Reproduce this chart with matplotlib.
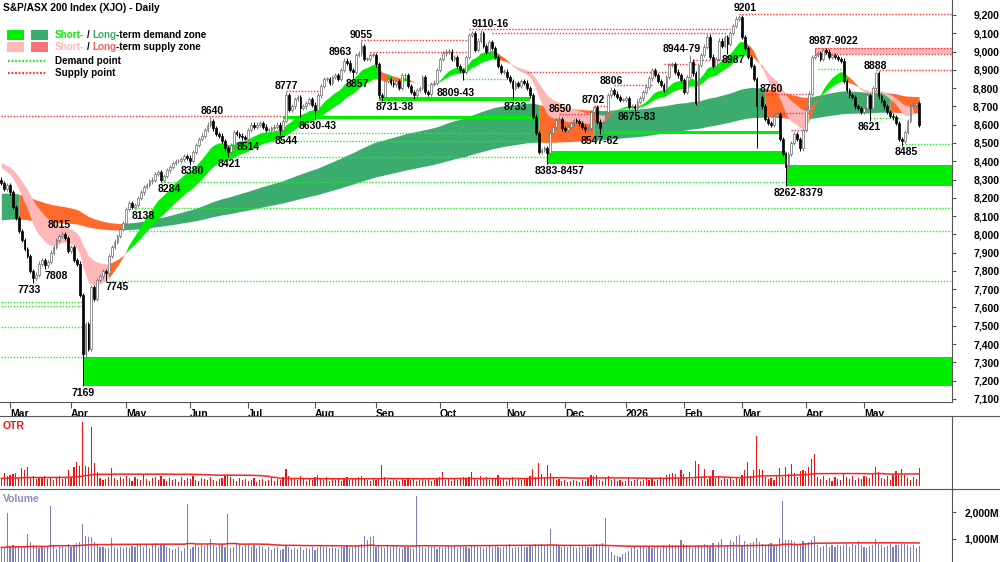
import numpy as np
import pandas as pd
import matplotlib
matplotlib.use('Agg')
import matplotlib.pyplot as plt
from matplotlib.lines import Line2D
from matplotlib.patches import Rectangle

plt.rcParams['font.family'] = ['Liberation Sans', 'DejaVu Sans']

# daily closes, 26 Feb 2025 .. 28 May 2026
closes = [
    8280, 8250, 8270, 8230, 8150, 8090, 8020, 7970, 7920, 7880,
    7800, 7760, 7780, 7840, 7860, 7830, 7850, 7900, 7930, 7970,
    7990, 8000, 7980, 7910, 7930, 7860, 7840, 7667, 7343, 7511,
    7375, 7710, 7646, 7750, 7770, 7800, 7790, 7880, 7930, 7960,
    7990, 8030, 8060, 8140, 8170, 8150, 8160, 8200, 8230, 8260,
    8270, 8290, 8300, 8330, 8340, 8300, 8320, 8350, 8370, 8390,
    8400, 8400, 8410, 8430, 8420, 8400, 8450, 8490, 8520, 8540,
    8570, 8600, 8620, 8580, 8550, 8540, 8510, 8470, 8450, 8490,
    8560, 8550, 8540, 8530, 8520, 8570, 8600, 8590, 8600, 8610,
    8590, 8570, 8570, 8580, 8590, 8600, 8570, 8620, 8760, 8680,
    8700, 8740, 8750, 8690, 8700, 8720, 8740, 8710, 8680, 8760,
    8810, 8850, 8850, 8830, 8860, 8870, 8850, 8900, 8950, 8940,
    8900, 8890, 8980, 8990, 9030, 8960, 8960, 8980, 8980, 8930,
    8760, 8750, 8840, 8850, 8830, 8820, 8840, 8800, 8870, 8870,
    8810, 8780, 8760, 8790, 8800, 8860, 8780, 8770, 8820, 8830,
    8900, 8960, 8990, 9000, 9000, 8960, 8970, 8920, 8900, 8890,
    8970, 9090, 9100, 9010, 9060, 9100, 9030, 9000, 9050, 9020,
    8970, 8920, 8890, 8890, 8860, 8840, 8800, 8826, 8810, 8840,
    8830, 8800, 8760, 8644, 8553, 8452, 8460, 8470, 8443, 8553,
    8590, 8625, 8630, 8580, 8571, 8590, 8607, 8625, 8620, 8607,
    8589, 8575, 8580, 8671, 8698, 8617, 8580, 8616, 8671, 8760,
    8790, 8770, 8753, 8735, 8735, 8744, 8698, 8700, 8690, 8726,
    8744, 8780, 8808, 8853, 8899, 8872, 8840, 8817, 8790, 8862,
    8926, 8930, 8890, 8870, 8845, 8780, 8862, 8945, 8881, 8717,
    8926, 8980, 9027, 9082, 8972, 8920, 8960, 9060, 9030, 9080,
    9040, 9100, 9140, 9180, 9190, 9080, 9020, 8970, 8920, 8850,
    8700, 8750, 8700, 8630, 8610, 8600, 8650, 8660, 8520, 8440,
    8370, 8440, 8500, 8550, 8520, 8470, 8570, 8680, 8770, 8970,
    8980, 8990, 8960, 9010, 9000, 8970, 8980, 8970, 8960, 8950,
    8840, 8790, 8760, 8750, 8700, 8690, 8670, 8690, 8760, 8690,
    8800, 8880, 8755, 8730, 8700, 8670, 8650, 8640, 8610, 8520,
    8510, 8560, 8620, 8700, 8710, 8720, 8600,
]
first_open = 8300

# labelled swing lows / highs (index -> price)
swing_lows = {11: 7733, 15: 7808, 28: 7169, 36: 7745, 46: 8138, 55: 8284, 65: 8380,
              78: 8421, 84: 8514, 96: 8544, 103: 8643, 108: 8630, 121: 8857, 131: 8731,
              142: 8738, 149: 8809, 159: 8843, 176: 8733, 188: 8383, 201: 8562, 206: 8547,
              218: 8675, 250: 8987, 260: 8471, 270: 8262, 299: 8621, 310: 8485}
swing_highs = {21: 8015, 72: 8640, 98: 8777, 118: 8963, 124: 9055, 162: 9110, 165: 9116,
               192: 8650, 204: 8702, 210: 8806, 231: 8944, 237: 8979, 254: 9201,
               261: 8760, 280: 9022, 301: 8888}

# text labels on the price panel: (index, price, text, side)
price_labels = [
    (9.5, 7733, '7733', 'low'), (18.8, 7808, '7808', 'low'), (20, 8015, '8015', 'high'),
    (28, 7169, '7169', 'low'), (40, 7745, '7745', 'low'), (49, 8138, '8138', 'low'),
    (57.7, 8284, '8284', 'low'), (65.6, 8380, '8380', 'low'), (72.5, 8640, '8640', 'high'),
    (78.4, 8421, '8421', 'low'), (85, 8514, '8514', 'low'), (98, 8544, '8544', 'low'),
    (98, 8777, '8777', 'high'), (109, 8630, '8630-43', 'low'), (116.8, 8963, '8963', 'high'),
    (122.5, 8857, '8857', 'low'), (124, 9055, '9055', 'high'), (135.5, 8731, '8731-38', 'low'),
    (156.4, 8809, '8809-43', 'low'), (168.2, 9116, '9110-16', 'high'), (176.8, 8733, '8733', 'low'),
    (192.3, 8383, '8383-8457', 'low'), (192.3, 8650, '8650', 'high'), (206, 8547, '8547-62', 'low'),
    (203.7, 8702, '8702', 'high'), (210, 8806, '8806', 'high'), (218.7, 8675, '8675-83', 'low'),
    (234.3, 8979, '8944-79', 'high'), (252, 8987, '8987', 'low'), (256, 9201, '9201', 'high'),
    (265, 8760, '8760', 'high'), (274.3, 8262, '8262-8379', 'low'), (286.6, 9022, '8987-9022', 'high'),
    (301, 8888, '8888', 'high'), (298.7, 8621, '8621', 'low'), (311.7, 8485, '8485', 'low'),
]

# demand zones (start index, end index or None = to the edge, low, high)
demand_zones = [(28, None, 7169, 7330), (97, 185, 8630, 8643), (130, 182, 8731, 8738),
                (188, 270, 8383, 8457), (206, 268, 8547, 8562), (270, None, 8262, 8379)]
supply_zone = (280, 9022, 8987)

# dotted demand / supply points (start, end, price)
demand_points = [(0, 28, 7630), (0, 28, 7608), (0, 28, 7494), (0, 28, 7330),
                 (36, None, 7745), (44, None, 8020), (46, None, 8142), (55, None, 8286),
                 (78, 188, 8424), (84, 188, 8510), (96, 188, 8552), (121, 130, 8857),
                 (159, 174, 8850), (281, 290, 8905), (299, 309, 8636), (310, None, 8492)]
supply_points = [(0, 98, 8645), (98, 110, 8785), (124, 161, 9062), (127, 161, 8998),
                 (161, 252, 9122), (169, 250, 9102), (181, 230, 8888), (192, 203, 8660),
                 (204, 209, 8702), (211, 224, 8818), (228, 240, 8930), (238, 251, 8955),
                 (254, None, 9205), (261, 278, 8768), (267, 278, 8664), (272, 278, 8572),
                 (301, None, 8897)]

# band and average seeds (levels at the left edge of the chart)
long_seed = (8224, 8078)
short_seed = (8380, 8400)
otr_seed = 0.77
vol_seed = 690

otr = [
    0.8, 1.3, 1.0, 1.1, 1.2, 1.3, 0.8, 1.8, 1.6, 1.9,
    0.8, 1.0, 0.7, 0.9, 0.8, 1.0, 0.7, 0.9, 0.6, 0.8,
    1.0, 0.7, 0.8, 1.6, 0.9, 1.9, 2.4, 2.0, 6.4, 2.0,
    1.9, 5.9, 2.3, 1.4, 0.8, 0.6, 0.7, 0.9, 1.8, 0.8,
    0.6, 0.9, 0.7, 1.0, 0.8, 0.5, 0.9, 0.7, 0.6, 1.2,
    0.7, 0.5, 0.8, 0.9, 0.6, 1.0, 0.7, 0.5, 0.8, 0.6,
    0.7, 0.4, 0.9, 0.6, 0.8, 0.7, 1.0, 0.6, 0.5, 0.8,
    0.7, 0.6, 0.9, 0.6, 0.5, 0.7, 0.8, 1.0, 1.1, 0.9,
    0.7, 0.5, 0.8, 0.6, 0.7, 0.5, 0.6, 0.8, 0.4, 0.6,
    0.7, 0.5, 0.6, 0.8, 0.5, 0.7, 0.6, 0.9, 1.7, 1.0,
    0.7, 0.8, 0.6, 1.0, 0.7, 0.5, 0.8, 0.6, 0.9, 1.1,
    0.7, 0.6, 0.9, 0.5, 0.7, 0.6, 0.8, 0.5, 0.7, 0.9,
    0.6, 0.8, 0.7, 0.9, 1.0, 0.8, 0.6, 0.5, 0.7, 0.6,
    0.8, 2.1, 0.9, 0.6, 0.5, 0.7, 0.6, 0.5, 0.7, 0.6,
    0.8, 0.6, 0.7, 0.5, 0.6, 0.8, 0.6, 0.7, 0.5, 0.6,
    0.7, 0.9, 1.4, 0.6, 0.7, 0.5, 0.8, 0.6, 0.7, 0.9,
    0.8, 0.9, 1.4, 0.8, 0.6, 1.0, 0.7, 0.9, 0.6, 0.8,
    0.7, 1.1, 0.6, 0.8, 0.5, 0.7, 0.9, 0.6, 0.7, 0.6,
    0.8, 0.7, 1.0, 1.7, 0.9, 2.3, 1.2, 0.8, 2.1, 1.3,
    0.9, 0.6, 0.7, 0.5, 0.6, 0.4, 0.5, 0.6, 0.5, 0.4,
    0.6, 0.5, 0.7, 1.1, 1.0, 1.1, 0.6, 0.5, 0.8, 1.0,
    0.6, 0.7, 0.5, 0.6, 0.4, 0.5, 0.9, 0.5, 0.6, 0.7,
    0.5, 0.6, 0.8, 0.6, 0.7, 0.5, 0.6, 0.9, 0.7, 1.1,
    1.2, 1.3, 1.2, 0.8, 1.6, 1.2, 0.9, 1.4, 0.7, 2.5,
    2.2, 0.8, 1.7, 0.7, 0.9, 1.6, 0.8, 1.0, 0.6, 0.9,
    0.7, 0.8, 0.6, 0.9, 0.7, 1.1, 1.6, 2.4, 1.0, 1.6,
    5.0, 1.7, 1.6, 0.9, 0.7, 0.8, 0.6, 1.0, 1.8, 0.9,
    1.9, 1.2, 2.2, 1.3, 0.9, 1.5, 1.6, 1.5, 1.9, 2.7,
    3.2, 0.9, 0.7, 1.0, 0.6, 0.8, 0.5, 0.9, 0.7, 0.6,
    1.3, 0.9, 0.7, 1.0, 0.6, 0.8, 0.7, 1.0, 0.9, 0.8,
    1.3, 1.9, 1.4, 0.8, 0.7, 1.0, 0.6, 1.1, 1.5, 1.2,
    1.7, 1.1, 0.8, 0.6, 0.9, 0.7, 1.8,
]

volume = [
    650, 700, 1960, 720, 760, 700, 740, 680, 750, 1190,
    900, 780, 720, 680, 700, 650, 720, 2220, 760, 640,
    690, 720, 680, 820, 700, 760, 850, 900, 1550, 1100,
    1070, 1080, 900, 780, 700, 720, 650, 680, 1050, 700,
    660, 720, 650, 700, 680, 740, 720, 800, 760, 700,
    820, 680, 760, 850, 720, 800, 780, 700, 650, 600,
    640, 700, 560, 660, 2300, 620, 700, 780, 720, 760,
    740, 820, 1000, 760, 700, 760, 820, 700, 1920, 650,
    720, 800, 760, 700, 780, 800, 720, 760, 680, 740,
    700, 640, 720, 600, 650, 700, 580, 640, 760, 720,
    640, 680, 620, 700, 580, 660, 620, 720, 600, 680,
    740, 700, 720, 660, 720, 680, 640, 700, 720, 760,
    680, 700, 740, 760, 820, 1100, 950, 1080, 1100, 700,
    760, 720, 680, 740, 700, 760, 740, 680, 640, 720,
    700, 660, 620, 2590, 760, 720, 680, 760, 700, 720,
    640, 700, 680, 720, 760, 700, 740, 680, 760, 720,
    700, 680, 780, 740, 700, 720, 660, 700, 740, 720,
    760, 700, 680, 720, 760, 800, 680, 720, 700, 760,
    720, 700, 760, 780, 800, 760, 820, 760, 800, 1370,
    780, 800, 740, 720, 760, 700, 740, 720, 680, 700,
    740, 760, 700, 720, 760, 800, 780, 840, 1780, 720,
    500, 420, 380, 330, 450, 480, 560, 680, 700, 640,
    720, 700, 680, 720, 660, 700, 740, 680, 760, 720,
    800, 780, 760, 740, 950, 820, 760, 720, 680, 740,
    760, 700, 820, 780, 720, 840, 680, 880, 1000, 720,
    760, 960, 900, 1120, 1140, 760, 940, 820, 860, 880,
    1040, 900, 820, 760, 800, 860, 780, 760, 1050, 2410,
    980, 960, 960, 880, 760, 820, 920, 840, 880, 960,
    1110, 760, 700, 740, 800, 720, 760, 700, 780, 740,
    760, 800, 720, 820, 780, 940, 760, 720, 680, 740,
    760, 1000, 820, 760, 700, 740, 800, 720, 780, 760,
    820, 800, 760, 720, 780, 680, 740,
]

asx_holidays = ['2025-04-18', '2025-04-21', '2025-04-25', '2025-06-09', '2025-12-25',
                '2025-12-26', '2026-01-01', '2026-01-26', '2026-04-03', '2026-04-06']

# colours
C_SHORT_UP = '#00ee00'
C_LONG_UP = '#3cab6e'
C_SHORT_DN = '#ffb6b6'
C_LONG_DN = '#ff6a2a'
C_DEMAND = '#22ee22'
C_SUPPLY = '#ff3030'
DOTS = (0, (1.0, 1.2))

n = len(closes)
days = pd.bdate_range('2025-02-26', '2026-07-31')
days = days[~days.isin(pd.to_datetime(asx_holidays))][:n]
x = np.arange(n)

c = np.array(closes, float)
o = np.r_[first_open, c[:-1]]
hi = np.maximum(o, c) + 12
lo = np.minimum(o, c) - 12
for k, v in swing_lows.items():
    lo[k] = v
for k, v in swing_highs.items():
    hi[k] = v


def ema(vals, span, seed):
    out = np.empty(len(vals))
    e = seed
    a = 2.0 / (span + 1)
    for i, v in enumerate(vals):
        e += a * (v - e)
        out[i] = e
    return out


def rolling_avg(vals, win, seed):
    s = pd.Series(np.r_[np.full(win - 1, seed), vals]).rolling(win).mean()
    return s.values[win - 1:]


lf = ema(c, 135, long_seed[0])
ls = ema(c, 270, long_seed[1])
sf = ema(c, 15, short_seed[0])
ss = ema(c, 30, short_seed[1])

# long band colour: flips when price closes outside the band
long_state = []
st = 'g'
for i in range(n):
    if c[i] < min(lf[i], ls[i]):
        st = 'o'
    elif c[i] > max(lf[i], ls[i]):
        st = 'g'
    long_state.append(st)

short_state = []
for i in range(n):
    if sf[i] > ss[i]:
        short_state.append('g' if c[i] >= min(sf[i], ss[i]) else 'o')
    else:
        short_state.append('o' if c[i] > max(sf[i], ss[i]) else 'p')


def fill_runs(ax, a, b, states, colors, z):
    i = 0
    while i < n:
        j = i
        while j + 1 < n and states[j + 1] == states[i]:
            j += 1
        k = min(j + 1, n - 1)
        ax.fill_between(x[i:k + 1], a[i:k + 1], b[i:k + 1], color=colors[states[i]],
                        linewidth=0, zorder=z)
        i = j + 1


fig = plt.figure(figsize=(10, 5.62), dpi=100)
H = 562.0
ax = fig.add_axes([0, 1 - 402 / H, 0.952, 402 / H])
ax_otr = fig.add_axes([0, 1 - 489 / H, 0.952, 73 / H])
ax_vol = fig.add_axes([0, 0, 0.952, 73 / H])

xmax = 327.3
for a in (ax, ax_otr, ax_vol):
    a.set_xlim(-0.45, xmax)
    for s in ('top', 'left'):
        a.spines[s].set_visible(False)
    a.spines['right'].set_color('#555555')
    a.spines['bottom'].set_color('#555555')
    a.yaxis.tick_right()
ax_otr.spines['bottom'].set_visible(False)
ax_vol.spines['bottom'].set_visible(False)

# bands
fill_runs(ax, lf, ls, long_state, {'g': C_LONG_UP, 'o': C_LONG_DN}, 1)
fill_runs(ax, sf, ss, short_state, {'g': C_SHORT_UP, 'o': C_LONG_DN, 'p': C_SHORT_DN}, 2)

# supply zone rectangle
sz0, sz_hi, sz_lo = supply_zone
ax.add_patch(Rectangle((sz0, sz_lo), xmax - sz0, sz_hi - sz_lo, facecolor=C_SHORT_DN,
                       edgecolor='none', zorder=1.5))
for lvl in (sz_lo, sz_hi):
    ax.hlines(lvl, sz0, xmax, colors=C_SUPPLY, linestyles=DOTS, lw=1.0, zorder=2.5)

# demand zones
for s0, s1, z_lo, z_hi in demand_zones:
    end = xmax if s1 is None else s1
    hgt = max(z_hi - z_lo, 18)
    ax.add_patch(Rectangle((s0, z_lo), end - s0, hgt, facecolor=C_SHORT_UP,
                           edgecolor='none', zorder=3))

for s0, s1, lvl in demand_points:
    ax.hlines(lvl, s0, xmax if s1 is None else s1, colors=C_DEMAND,
              linestyles=DOTS, lw=1.0, zorder=2.5)
for s0, s1, lvl in supply_points:
    ax.hlines(lvl, s0, xmax if s1 is None else s1, colors=C_SUPPLY,
              linestyles=DOTS, lw=1.0, zorder=2.5)

# candles
up = c >= o
ax.vlines(x, lo, hi, colors=np.where(up, '#7a7a7a', '#000000'), lw=0.7, zorder=4)
body_lo = np.minimum(o, c)
body_h = np.maximum(np.abs(c - o), 4)
ax.bar(x, body_h, bottom=body_lo, width=0.62, color=np.where(up, 'white', 'black'),
       edgecolor=np.where(up, '#6a6a6a', 'black'), linewidth=0.5, zorder=4.5)

for xi, p, txt, side in price_labels:
    ax.annotate(txt, (xi, p), xytext=(0, -1 if side == 'low' else 1), textcoords='offset points',
                ha='center', va='top' if side == 'low' else 'bottom', fontsize=7.5,
                fontweight='bold', color='black', zorder=6)

ax.set_ylim(7083, 9282)
yt = np.arange(7100, 9201, 100)
ax.set_yticks(yt)
ax.set_yticklabels([f'{v:,}' for v in yt])

# month ticks
month_start = [i for i in range(1, n) if days[i].month != days[i - 1].month]
mlabels = ['2026' if days[i].month == 1 else days[i].strftime('%b') for i in month_start]
ax.set_xticks(month_start)
ax.set_xticklabels(mlabels)
ax.tick_params(axis='x', length=4, width=0.8, color='#555555', pad=1, labelsize=7.5)
for t in ax.get_xticklabels():
    t.set_fontweight('bold')
    t.set_horizontalalignment('left')

ax.tick_params(axis='y', length=3, width=0.8, color='#555555', pad=31, labelsize=7.5)
for t in ax.yaxis.get_major_ticks():
    t.label2.set_horizontalalignment('right')
    t.label2.set_fontweight('bold')

# OTR panel
otr_arr = np.array(otr)
ax_otr.bar(x, otr_arr, width=0.4, color='#ee1111', linewidth=0, zorder=2)
ax_otr.plot(x, rolling_avg(otr_arr, 65, otr_seed), color='#ff2020', lw=1.1, zorder=3)
ax_otr.set_ylim(-0.3, 7.0)
ax_otr.set_xticks([])
ax_otr.set_yticks([])
ax_otr.text(0.003, 0.93, 'OTR', transform=ax_otr.transAxes, color='#ee1111', fontsize=7.5,
            fontweight='bold', va='top', ha='left')

# Volume panel
vol = np.array(volume, float)
ax_vol.bar(x, vol, width=0.4, color='#7b7fb6', linewidth=0, zorder=2)
ax_vol.plot(x, rolling_avg(vol, 65, vol_seed), color='#ff2020', lw=1.1, zorder=3)
ax_vol.set_ylim(148, 2852)
ax_vol.set_xticks([])
ax_vol.set_yticks([1000, 2000])
ax_vol.set_yticklabels(['1,000M', '2,000M'])
ax_vol.tick_params(axis='y', length=3, width=0.8, color='#555555', pad=31, labelsize=7.5)
for t in ax_vol.yaxis.get_major_ticks():
    t.label2.set_horizontalalignment('right')
    t.label2.set_fontweight('bold')
ax_vol.text(0.003, 0.93, 'Volume', transform=ax_vol.transAxes, color='#8a8fc0', fontsize=7.5,
            fontweight='bold', va='top', ha='left')

# panel separators running to the right edge
for yy in (416, 489):
    fig.add_artist(Line2D([0, 1], [1 - yy / H] * 2, color='#555555', lw=0.8))

# title and legend
fig.text(0.003, 1 - 3 / H, 'S&P/ASX 200 Index (XJO) - Daily', fontsize=7.3, fontweight='bold',
         va='top', ha='left')
for (x0, y0, col) in [(7, 30, C_SHORT_UP), (31, 30, C_LONG_UP), (7, 42, C_SHORT_DN), (31, 42, '#f87474')]:
    fig.add_artist(Rectangle((x0 / 1000, 1 - (y0 + 10) / H), 17 / 1000, 10 / H,
                             transform=fig.transFigure, facecolor=col, edgecolor='none'))
fig.add_artist(Line2D([8 / 1000, 45 / 1000], [1 - 61 / H] * 2, color=C_DEMAND, lw=1.6,
                      ls=(0, (0.8, 0.8))))
fig.add_artist(Line2D([8 / 1000, 45 / 1000], [1 - 73 / H] * 2, color=C_SUPPLY, lw=1.6,
                      ls=(0, (0.8, 0.8))))

renderer = fig.canvas.get_renderer()
LEG_FS = 7.1


def text_w(s):
    t = fig.text(0, 0, s, fontsize=LEG_FS, fontweight='bold')
    w = t.get_window_extent(renderer).width
    t.remove()
    return w


space_w = text_w('a a') - text_w('aa')


def rich(xpx, ypx, parts):
    xp = xpx
    for s, col in parts:
        lead = len(s) - len(s.lstrip(' '))
        trail = len(s) - len(s.rstrip(' '))
        xp += lead * space_w
        core = s.strip(' ')
        fig.text(xp / 1000, 1 - ypx / H, core, color=col, fontsize=LEG_FS, fontweight='bold',
                 va='center', ha='left')
        xp += text_w(core) + trail * space_w


rich(55, 35, [('Short-', C_SHORT_UP), (' / ', 'black'), ('Long', C_LONG_UP), ('-term demand zone', 'black')])
rich(55, 47, [('Short-', C_SHORT_DN), (' / ', 'black'), ('Long', '#f86060'), ('-term supply zone', 'black')])
rich(55, 61, [('Demand point', 'black')])
rich(55, 73, [('Supply point', 'black')])

fig.savefig('out.png', dpi=100, facecolor='white')
